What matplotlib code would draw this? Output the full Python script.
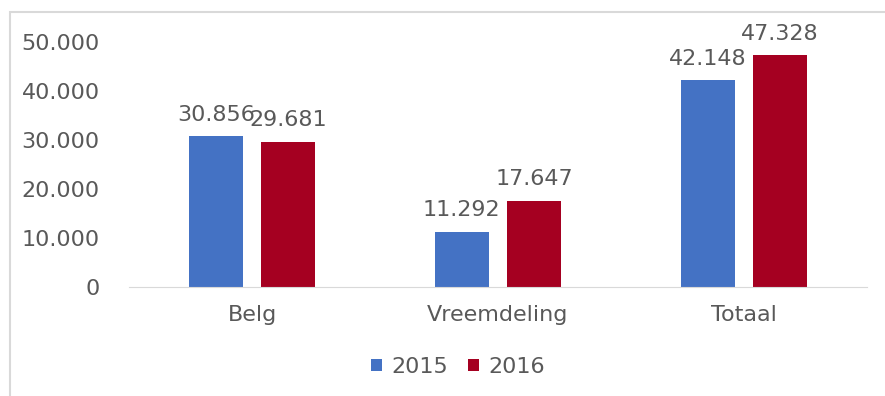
import numpy as np
import matplotlib.pyplot as plt
from matplotlib.patches import Rectangle
from matplotlib.ticker import FuncFormatter

categories = ['Belg', 'Vreemdeling', 'Totaal']
years = ['2015', '2016']
values_2015 = [30856, 11292, 42148]
values_2016 = [29681, 17647, 47328]
colors = ['#4472C4', '#A50021']

plt.rcParams['font.family'] = ['DejaVu Sans']
txt_color = '#595959'
fs = 16

def dot_thousands(v, pos=None):
    return f'{int(round(v)):,}'.replace(',', '.')

fig = plt.figure(figsize=(8.85, 3.96), dpi=100)
# grey frame round the chart area (left and top edges show)
fig.patches.append(Rectangle((10 / 885, -0.1), 1.2, 1 - 12 / 396 + 0.1,
                             transform=fig.transFigure, fill=False,
                             edgecolor='#D9D9D9', lw=1.5))

ax = fig.add_axes([129 / 885, 1 - 287 / 396, (867 - 129) / 885, (287 - 42) / 396])

x = np.arange(len(categories))
w = 0.222
off = 0.147
for i, (vals, c, lab) in enumerate(zip([values_2015, values_2016], colors, years)):
    pos = x + (off if i else -off)
    bars = ax.bar(pos, vals, width=w, color=c, label=lab)
    for b, v in zip(bars, vals):
        ax.annotate(dot_thousands(v), (b.get_x() + b.get_width() / 2, v),
                    xytext=(0, 11), textcoords='offset points',
                    ha='center', va='baseline', fontsize=fs, color=txt_color)

ax.set_xlim(-0.5, 2.5)
ax.set_ylim(0, 50000)
ax.set_yticks(np.arange(0, 50001, 10000))
ax.yaxis.set_major_formatter(FuncFormatter(dot_thousands))
ax.set_xticks(x)
ax.set_xticklabels(categories)
ax.tick_params(axis='both', length=0, labelsize=fs, labelcolor=txt_color)
ax.tick_params(axis='y', pad=21)
ax.tick_params(axis='x', pad=13)
for s in ['top', 'right', 'left']:
    ax.spines[s].set_visible(False)
ax.spines['bottom'].set_color('#D9D9D9')

leg = fig.legend(loc='center', bbox_to_anchor=(458 / 885, 1 - 367 / 396), ncol=2,
                 frameon=False, fontsize=fs, handlelength=0.5, handleheight=0.5,
                 handletextpad=0.4, columnspacing=0.9)
for t in leg.get_texts():
    t.set_color(txt_color)

fig.savefig('out.png', dpi=100)
